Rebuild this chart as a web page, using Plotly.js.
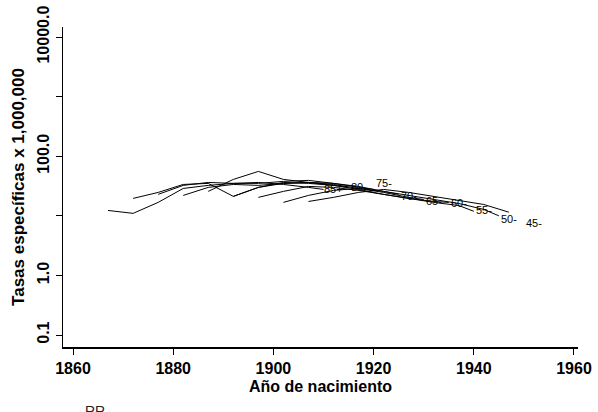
<!DOCTYPE html>
<html>
<head>
<meta charset="utf-8">
<script src="https://cdn.plot.ly/plotly-3.0.1.min.js"></script>
<style>html,body{margin:0;padding:0;background:#fff;}#chart{width:598px;height:412px;}</style>
</head>
<body>
<div id="chart"></div>
<script>
// Age groups (one line per group), birth-cohort years and specific rates x 1,000,000
const ageGroups = ["85+", "80-", "75-", "70-", "65-", "60-", "55-", "50-", "45-"];

const years85 = [1867, 1872, 1877, 1882, 1887, 1892, 1897, 1902, 1907, 1910];
const rates85 = [12.3, 11.0, 16.8, 28.8, 32.4, 35.0, 36.3, 33.6, 30.0, 27.7];

const years80 = [1872, 1877, 1882, 1887, 1892, 1897, 1902, 1907, 1912, 1915];
const rates80 = [19.6, 24.7, 33.6, 35.0, 21.2, 30.0, 36.3, 35.0, 32.4, 30.0];

const years75 = [1877, 1882, 1887, 1892, 1897, 1902, 1907, 1912, 1917, 1920];
const rates75 = [22.9, 32.4, 36.3, 35.0, 35.0, 37.8, 39.3, 35.0, 30.0, 27.7];

const years70 = [1882, 1887, 1892, 1897, 1902, 1907, 1912, 1917, 1922, 1925];
const rates70 = [22.0, 30.0, 33.6, 32.4, 35.0, 36.3, 35.0, 31.1, 25.7, 22.9];

const years65 = [1887, 1892, 1897, 1902, 1907, 1912, 1917, 1922, 1927, 1930];
const rates65 = [25.7, 40.8, 55.6, 40.8, 36.3, 33.6, 28.8, 24.7, 20.4, 18.8];

const years60 = [1892, 1897, 1902, 1907, 1912, 1917, 1922, 1927, 1932, 1935];
const rates60 = [21.2, 30.0, 35.0, 36.3, 32.4, 27.7, 22.9, 19.6, 17.4, 16.8];

const years55 = [1897, 1902, 1907, 1912, 1917, 1922, 1927, 1932, 1937, 1940];
const rates55 = [20.4, 25.7, 31.1, 30.0, 26.7, 22.9, 19.6, 16.8, 14.9, 11.9];

const years50 = [1902, 1907, 1912, 1917, 1922, 1927, 1932, 1937, 1942, 1945];
const rates50 = [16.8, 22.0, 26.7, 28.8, 25.7, 22.0, 18.8, 16.1, 12.8, 10.0];

const years45 = [1907, 1912, 1917, 1922, 1927, 1932, 1937, 1942, 1947];
const rates45 = [17.4, 20.4, 24.7, 27.7, 24.7, 21.2, 18.1, 15.5, 11.5];

// Label positions (year, rate) for each age group
const labelYears = [1912, 1917, 1922, 1927, 1932, 1937, 1942, 1947, 1952];
const labelRates = [27.7, 30.0, 35.0, 21.2, 17.4, 16.1, 12.3, 9.0, 7.5];

// Axis ticks
const xTicks = [1860, 1880, 1900, 1920, 1940, 1960];
const yTickVals = [0.1, 1, 10, 100, 1000, 10000];
const yTickText = ["0.1", "1.0", "", "100.0", "", "10000.0"];

const seriesYears = [years85, years80, years75, years70, years65, years60, years55, years50, years45];
const seriesRates = [rates85, rates80, rates75, rates70, rates65, rates60, rates55, rates50, rates45];

const FONT = "Liberation Sans, Arial, Helvetica, sans-serif";

const traces = ageGroups.map((g, i) => ({
  type: "scatter",
  mode: "lines",
  name: g,
  x: seriesYears[i],
  y: seriesRates[i],
  line: {color: "#000", width: 1},
  showlegend: false,
  hoverinfo: "skip"
}));

const annotations = ageGroups.map((g, i) => ({
  x: labelYears[i],
  y: Math.log10(labelRates[i]),
  xref: "x", yref: "y",
  text: g,
  showarrow: false,
  font: {family: FONT, size: 11, color: "#000"},
  xanchor: "center", yanchor: "middle"
}));

annotations.push({
  xref: "paper", yref: "paper",
  x: 0.038, y: -0.168,
  xanchor: "left", yanchor: "top",
  text: "RR",
  showarrow: false,
  font: {family: FONT, size: 14, color: "#222"}
});

const layout = {
  width: 598,
  height: 412,
  margin: {l: 63, r: 20, t: 27, b: 65},
  paper_bgcolor: "#fff",
  plot_bgcolor: "#fff",
  font: {family: FONT, color: "#000"},
  xaxis: {
    range: [1858.0, 1960.8],
    tickvals: xTicks,
    ticktext: xTicks.map(String),
    ticks: "outside",
    ticklen: 6,
    tickwidth: 1,
    tickcolor: "#000",
    showline: true,
    linecolor: "#000",
    linewidth: 1.5,
    showgrid: false,
    zeroline: false,
    tickfont: {family: FONT, size: 16, weight: "bold", color: "#000"},
    title: {text: "Año de nacimiento", font: {family: FONT, size: 16, weight: "bold", color: "#000"}, standoff: 5}
  },
  yaxis: {
    type: "log",
    range: [-1.201, 4.168],
    tickvals: yTickVals,
    ticktext: yTickText,
    tickangle: -90,
    ticks: "outside",
    ticklen: 6,
    tickwidth: 1,
    tickcolor: "#000",
    showline: true,
    linecolor: "#000",
    linewidth: 1.5,
    showgrid: false,
    zeroline: false,
    tickfont: {family: FONT, size: 16, weight: "bold", color: "#000"},
    title: {text: "Tasas específicas x 1,000,000", font: {family: FONT, size: 17, weight: "bold", color: "#000"}, standoff: 6}
  },
  annotations: annotations,
  showlegend: false
};

Plotly.newPlot("chart", traces, layout, {displayModeBar: false, staticPlot: true});
</script>
</body>
</html>
